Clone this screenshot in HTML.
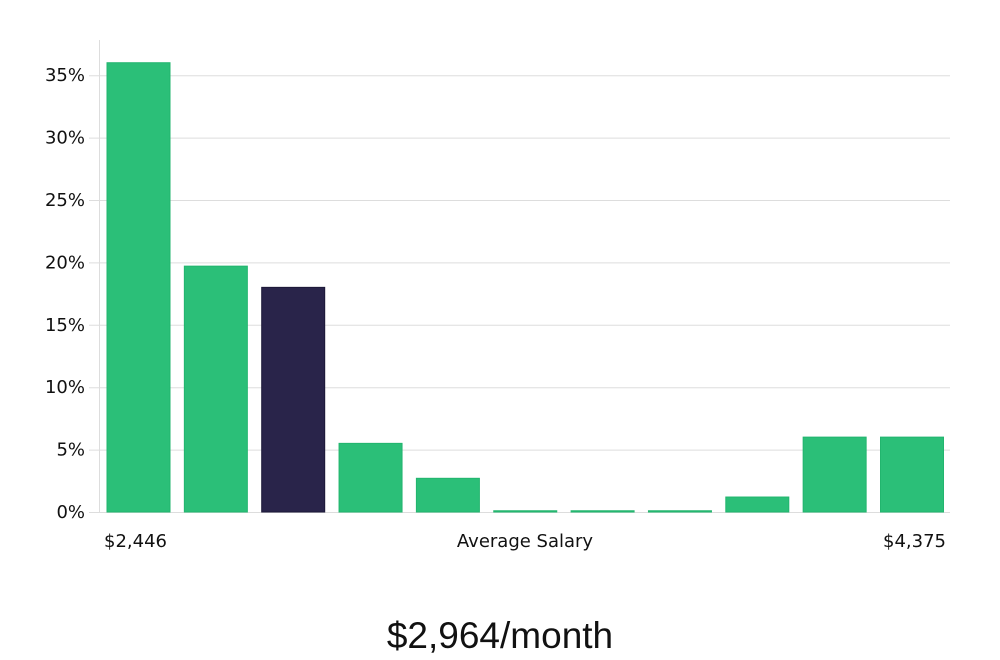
<!DOCTYPE html>
<html><head><meta charset="utf-8"><style>
body{margin:0;background:#fff;width:1000px;height:660px;overflow:hidden}
svg{display:block;font-family:"DejaVu Sans","Liberation Sans",sans-serif}
</style></head><body>
<svg id="chart" width="1000" height="660">
<line x1="99.5" y1="40" x2="99.5" y2="512" stroke="#ddd"/>
<g id="grid"></g><g id="bars"></g>
<text x="104" y="547" font-size="18" fill="#111">$2,446</text>
<text x="525" y="547" font-size="18" fill="#111" text-anchor="middle">Average Salary</text>
<text x="946" y="547" font-size="18" fill="#111" text-anchor="end">$4,375</text>
<text x="500" y="648" font-size="37" fill="#111" text-anchor="middle" font-family="Liberation Sans, sans-serif">$2,964/month</text>
</svg>
<script>
const categories=["b1","b2","b3","b4","b5","b6","b7","b8","b9","b10","b11"];
const values=[36,19.7,18,5.5,2.7,0.1,0.1,0.1,1.2,6,6];
const highlight=[false,false,true,false,false,false,false,false,false,false,false];
const ticks=[0,5,10,15,20,25,30,35];
const tickLabels=["0%","5%","10%","15%","20%","25%","30%","35%"];
const NS="http://www.w3.org/2000/svg";
const y=v=>512-v*12.48;
const x=i=>107+i*77.35;
const grid=document.getElementById('grid'),bars=document.getElementById('bars');
ticks.forEach((t,i)=>{
 const l=document.createElementNS(NS,'line');
 l.setAttribute('x1',89);l.setAttribute('x2',950);l.setAttribute('y1',y(t)+0.5);l.setAttribute('y2',y(t)+0.5);
 l.setAttribute('stroke','#ddd');
 
 
 grid.appendChild(l);
 const tx=document.createElementNS(NS,'text');
 tx.setAttribute('x',85);tx.setAttribute('y',y(t)+6);tx.setAttribute('text-anchor','end');
 tx.setAttribute('font-size','18');tx.setAttribute('fill','#111');tx.textContent=tickLabels[i];
 
 
 grid.appendChild(tx);
});
values.forEach((v,i)=>{
 const r=document.createElementNS(NS,'rect');
 const top=y(v);
 r.setAttribute('x',x(i));r.setAttribute('y',top);r.setAttribute('width',63);r.setAttribute('height',Math.max(1,512-top));
 r.setAttribute('fill',highlight[i]?'#29244a':'#2bbf78');
 r.setAttribute('stroke',highlight[i]?'#1c1838':'#22b56e');r.setAttribute('stroke-width','1');
 
 
 bars.appendChild(r);
});
</script>
</body></html>
